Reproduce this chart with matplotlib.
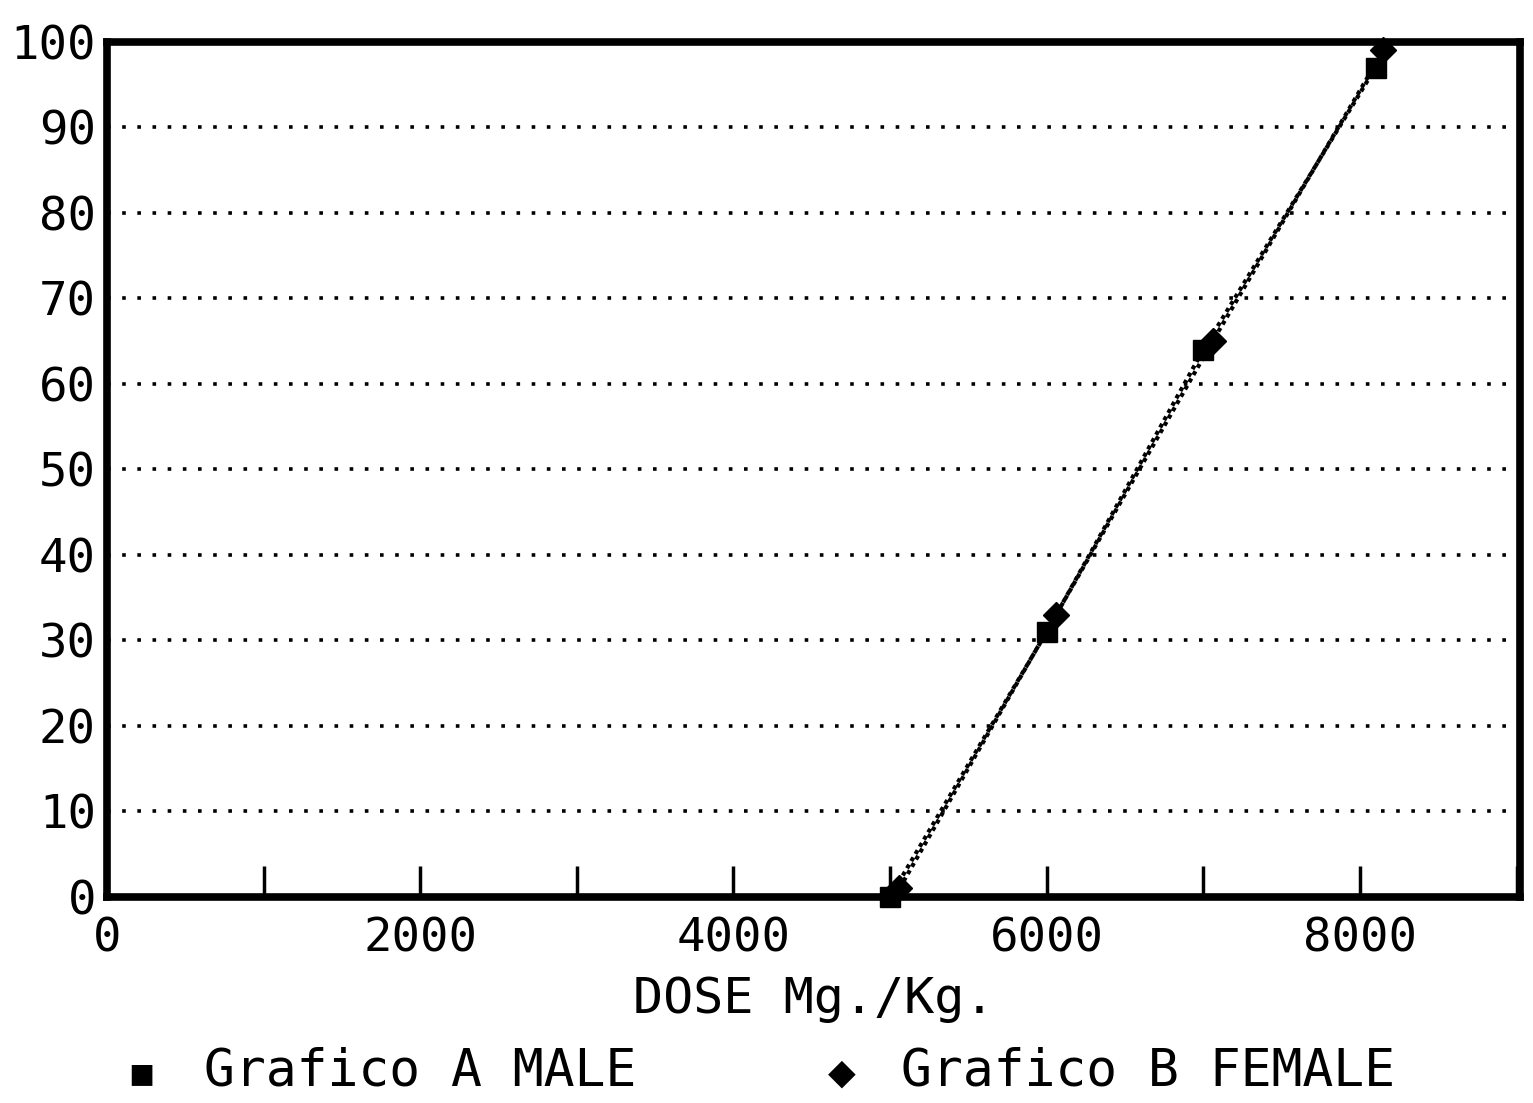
import matplotlib
matplotlib.use("Agg")
import matplotlib.pyplot as plt
from matplotlib.ticker import MultipleLocator

# Data
male_dose = [5000, 6000, 7000, 8100]
male_pct = [0, 31, 64, 97]
female_dose = [5060, 6060, 7060, 8150]
female_pct = [1, 33, 65, 99]
x_ticks = [0, 2000, 4000, 6000, 8000]
y_ticks = [0, 10, 20, 30, 40, 50, 60, 70, 80, 90, 100]
x_label = "DOSE Mg./Kg."
legend_labels = ["Grafico A MALE", "Grafico B FEMALE"]

FONT = "DejaVu Sans Mono"
plt.rcParams['font.family'] = [FONT]

fig = plt.figure(figsize=(15.33, 11.03), dpi=100)
ax = fig.add_axes([0.0698, 0.1868, 0.9215, 0.7752])

ax.set_xlim(0, 9020)
ax.set_ylim(0, 100)

for y in y_ticks[1:-1]:
    ax.axhline(y, color='black', linestyle=(0, (1, 3.2)), linewidth=2.6, zorder=1)

ax.plot(male_dose, male_pct, color='black', linestyle=(0, (1, 1.0)), linewidth=3,
        marker='s', markersize=15, zorder=3, clip_on=False)
ax.plot(female_dose, female_pct, color='black', linestyle=(0, (1, 1.0)), linewidth=3,
        marker='D', markersize=13, zorder=3, clip_on=False)

for side in ['left', 'bottom', 'top', 'right']:
    ax.spines[side].set_linewidth(5.5)

ax.set_xticks(x_ticks)
ax.xaxis.set_minor_locator(MultipleLocator(1000))
ax.set_yticks(y_ticks)
ax.tick_params(axis='x', which='both', direction='in', length=22, width=2.5, pad=14,
               labelsize=34)
ax.tick_params(axis='y', which='both', length=0, pad=8, labelsize=34)
ax.set_xticklabels([str(v) for v in x_ticks])
ax.set_yticklabels([str(v) for v in y_ticks])

ax.set_xlabel(x_label, fontsize=36, labelpad=10)

# Legend (drawn as text below)
fig.text(0.083, 0.016, "\u25AA", fontsize=30, ha='left', va='baseline', family=['DejaVu Sans'])
fig.text(0.133, 0.016, legend_labels[0], fontsize=37, ha='left', va='baseline')
fig.text(0.54, 0.018, "\u25C6", fontsize=26, ha='left', va='baseline', family=['DejaVu Sans'])
fig.text(0.588, 0.016, legend_labels[1], fontsize=37, ha='left', va='baseline')

fig.savefig("out.png", dpi=100)
